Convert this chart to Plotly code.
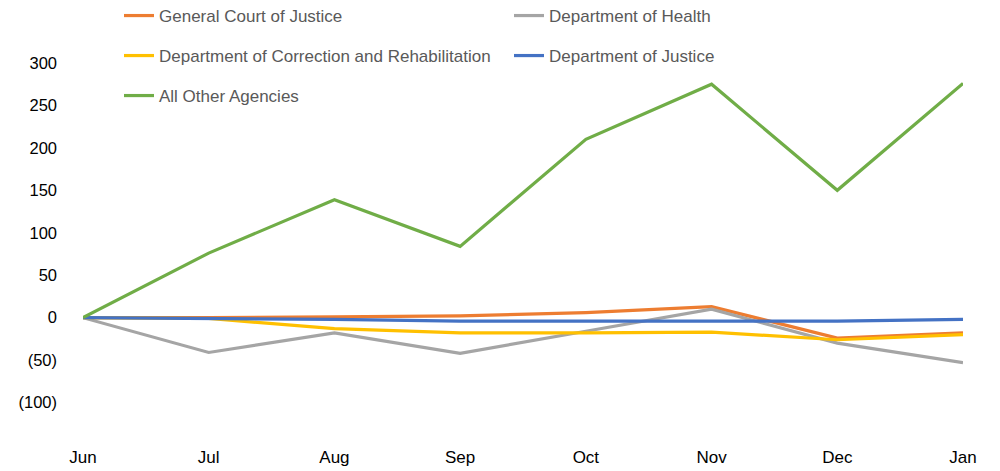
import plotly.graph_objects as go

months = ["Jun", "Jul", "Aug", "Sep", "Oct", "Nov", "Dec", "Jan"]
general_court = [0, 0, 1, 2, 6, 13, -24, -18]
dept_health = [0, -41, -18, -42, -16, 10, -30, -53]
dept_correction = [0, -1, -13, -18, -18, -17, -26, -20]
dept_justice = [0, -1, -2, -4, -4, -4, -4, -2]
all_other = [0, 76, 139, 84, 210, 275, 150, 276]

y_tickvals = [-100, -50, 0, 50, 100, 150, 200, 250, 300]
y_ticktext = ["(100)", "(50)", "0", "50", "100", "150", "200", "250", "300"]

FONT = "Liberation Sans, Arial, sans-serif"

series = [
    ("General Court of Justice", general_court, "#ED7D31", "legend"),
    ("Department of Health", dept_health, "#A5A5A5", "legend"),
    ("Department of Correction and Rehabilitation", dept_correction, "#FFC000", "legend2"),
    ("Department of Justice", dept_justice, "#4472C4", "legend2"),
    ("All Other Agencies", all_other, "#70AD47", "legend3"),
]

fig = go.Figure()
for name, vals, color, leg in series:
    fig.add_trace(go.Scatter(
        x=list(range(len(months))), y=vals, name=name, mode="lines",
        line=dict(color=color, width=3.2), legend=leg,
    ))

# page body has an 8px margin; figure is sized/positioned to compensate
W, H = 992, 463
leg_common = dict(
    orientation="h", xref="container", yref="container",
    xanchor="left", yanchor="middle",
    entrywidth=345, entrywidthmode="pixels",
    font=dict(family=FONT, size=17, color="#595959"),
    bgcolor="rgba(0,0,0,0)", traceorder="normal",
)
rows_y = [8, 48, 88]
fig.update_layout(
    width=W, height=H,
    margin=dict(l=75, r=37, t=55, b=25.5, autoexpand=False),
    paper_bgcolor="white", plot_bgcolor="white",
    font=dict(family=FONT, size=16, color="black"),
    xaxis=dict(
        range=[0, 7], tickvals=list(range(len(months))), ticktext=months,
        showgrid=False, zeroline=False, showline=False, ticks="",
        tickfont=dict(size=17),
    ),
    yaxis=dict(
        range=[-150, 300], tickvals=y_tickvals, ticktext=y_ticktext,
        showgrid=False, zeroline=False, showline=False, ticks="",
        ticklabelstandoff=25, tickfont=dict(size=16.5),
    ),
    legend=dict(x=111 / W, y=1 - rows_y[0] / H, **leg_common),
    legend2=dict(x=111 / W, y=1 - rows_y[1] / H, **leg_common),
    legend3=dict(x=111 / W, y=1 - rows_y[2] / H, **leg_common),
    showlegend=True,
)

fig.write_html("out.html")
